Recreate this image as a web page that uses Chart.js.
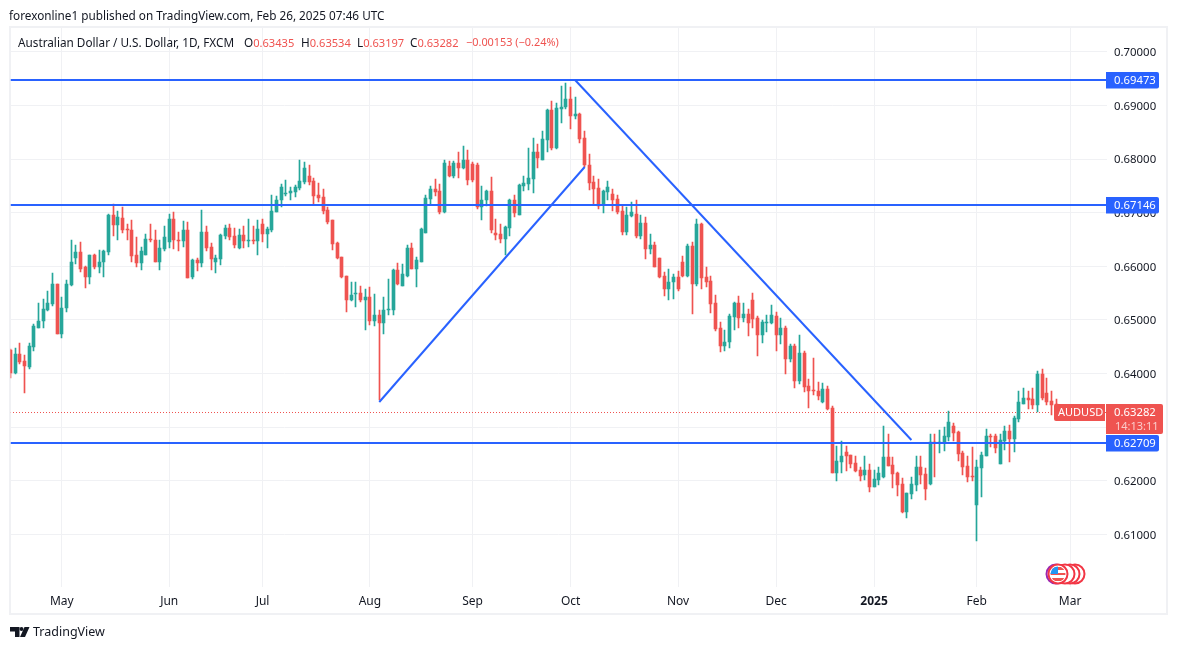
<!DOCTYPE html>
<html>
<head>
<meta charset="utf-8">
<title>AUDUSD</title>
<script src="https://cdn.jsdelivr.net/npm/chart.js@4"></script>
<style>
    html, body { margin: 0; padding: 0; background: #fff; }
    body { position: relative; width: 1177px; height: 650px; overflow: hidden; font-family: "Noto Sans", sans-serif; color: #131722; }
    #chart { position: absolute; left: 0; top: 0; }
    .txt { position: absolute; white-space: nowrap; font-size: 11.75px; line-height: 16px; }
    .red { color: #ef5350; font-size: 11.1px; }
</style>
</head>
<body>
<canvas id="chart" width="1177" height="650"></canvas>

<div class="txt" style="left:9px;top:7px;">forexonline1 published on TradingView.com, Feb 26, 2025 07:46 UTC</div>

<div class="txt" style="left:18px;top:34px;">Australian Dollar / U.S. Dollar, 1D, FXCM</div>
<div class="txt" style="left:244px;top:34px;">O<span class="red">0.63435</span></div>
<div class="txt" style="left:301px;top:34px;">H<span class="red">0.63534</span></div>
<div class="txt" style="left:357px;top:34px;">L<span class="red">0.63197</span></div>
<div class="txt" style="left:410px;top:34px;">C<span class="red">0.63282</span></div>
<div class="txt red" style="left:466px;top:34px;font-size:10.9px;">−0.00153 (−0.24%)</div>

<svg style="position:absolute;left:10px;top:626px;" width="20" height="12" viewBox="0 0 20 12">
    <path d="M0 1h9.5v10H5V5.5H0z M14.5 1L10 11h5l4.5-10z" fill="#131722"/>
    <circle cx="11.5" cy="3" r="2" fill="#131722"/>
</svg>
<div class="txt" style="left:33px;top:624px;font-size:12.5px;">TradingView</div>

<script>
// Daily candles, AUD/USD
const opens = [
    0.6444, 0.6401, 0.6436, 0.6423, 0.6412, 0.6449, 0.6486, 0.6498, 0.6518, 0.6529,
    0.6568, 0.6473, 0.6522, 0.6565, 0.6615, 0.6626, 0.6598, 0.6580, 0.6621, 0.6598,
    0.6608, 0.6626, 0.6695, 0.6678, 0.6691, 0.6669, 0.6667, 0.6621, 0.6606, 0.6622,
    0.6652, 0.6650, 0.6609, 0.6632, 0.6645, 0.6689, 0.6650, 0.6647, 0.6667, 0.6580,
    0.6611, 0.6606, 0.6665, 0.6637, 0.6609, 0.6613, 0.6656, 0.6671, 0.6656, 0.6634,
    0.6658, 0.6647, 0.6649, 0.6647, 0.6680, 0.6660, 0.6667, 0.6702, 0.6723, 0.6736,
    0.6736, 0.6739, 0.6747, 0.6758, 0.6769, 0.6760, 0.6734, 0.6730, 0.6706, 0.6687,
    0.6643, 0.6617, 0.6583, 0.6537, 0.6548, 0.6550, 0.6537, 0.6542, 0.6499, 0.6510,
    0.6494, 0.6518, 0.6518, 0.6594, 0.6564, 0.6583, 0.6635, 0.6596, 0.6609, 0.6663,
    0.6726, 0.6745, 0.6741, 0.6702, 0.6788, 0.6769, 0.6793, 0.6784, 0.6799, 0.6791,
    0.6790, 0.6710, 0.6723, 0.6741, 0.6663, 0.6661, 0.6652, 0.6672, 0.6723, 0.6696,
    0.6750, 0.6754, 0.6763, 0.6814, 0.6799, 0.6836, 0.6892, 0.6821, 0.6894, 0.6897,
    0.6912, 0.6881, 0.6884, 0.6840, 0.6789, 0.6758, 0.6747, 0.6715, 0.6739, 0.6735,
    0.6726, 0.6704, 0.6665, 0.6694, 0.6698, 0.6657, 0.6681, 0.6633, 0.6640, 0.6616,
    0.6583, 0.6558, 0.6570, 0.6581, 0.6609, 0.6583, 0.6638, 0.6567, 0.6679, 0.6580,
    0.6573, 0.6532, 0.6485, 0.6452, 0.6459, 0.6506, 0.6532, 0.6504, 0.6511, 0.6537,
    0.6504, 0.6472, 0.6494, 0.6494, 0.6508, 0.6472, 0.6485, 0.6427, 0.6452, 0.6386,
    0.6439, 0.6377, 0.6370, 0.6368, 0.6347, 0.6372, 0.6336, 0.6215, 0.6236, 0.6254,
    0.6249, 0.6234, 0.6221, 0.6211, 0.6221, 0.6189, 0.6202, 0.6208, 0.6245, 0.6229,
    0.6215, 0.6194, 0.6142, 0.6175, 0.6192, 0.6226, 0.6213, 0.6194, 0.6272, 0.6271,
    0.6271, 0.6282, 0.6302, 0.6291, 0.6252, 0.6228, 0.6209, 0.6155, 0.6224, 0.6246,
    0.6284, 0.6284, 0.6232, 0.6275, 0.6293, 0.6278, 0.6316, 0.6344, 0.6355, 0.6353,
    0.6342, 0.6400, 0.6364, 0.6349, 0.63435
];
const closes = [
    0.6401, 0.6436, 0.6421, 0.6414, 0.6451, 0.6488, 0.6499, 0.6520, 0.6531, 0.6568,
    0.6473, 0.6523, 0.6567, 0.6609, 0.6626, 0.6596, 0.6580, 0.6621, 0.6598, 0.6609,
    0.6628, 0.6695, 0.6678, 0.6693, 0.6667, 0.6667, 0.6619, 0.6606, 0.6628, 0.6652,
    0.6649, 0.6609, 0.6634, 0.6654, 0.6689, 0.6649, 0.6649, 0.6667, 0.6578, 0.6611,
    0.6606, 0.6665, 0.6635, 0.6613, 0.6615, 0.6658, 0.6671, 0.6654, 0.6639, 0.6658,
    0.6647, 0.6649, 0.6647, 0.6669, 0.6660, 0.6669, 0.6704, 0.6724, 0.6749, 0.6737,
    0.6741, 0.6749, 0.6760, 0.6784, 0.6758, 0.6732, 0.6728, 0.6704, 0.6683, 0.6641,
    0.6615, 0.6581, 0.6537, 0.6546, 0.6550, 0.6537, 0.6542, 0.6499, 0.6510, 0.6494,
    0.6518, 0.6520, 0.6594, 0.6568, 0.6585, 0.6635, 0.6596, 0.6611, 0.6669, 0.6728,
    0.6745, 0.6739, 0.6702, 0.6793, 0.6769, 0.6793, 0.6784, 0.6799, 0.6762, 0.6762,
    0.6710, 0.6724, 0.6741, 0.6667, 0.6659, 0.6652, 0.6674, 0.6723, 0.6700, 0.6752,
    0.6756, 0.6765, 0.6814, 0.6802, 0.6838, 0.6892, 0.6821, 0.6896, 0.6897, 0.6912,
    0.6881, 0.6884, 0.6838, 0.6789, 0.6756, 0.6745, 0.6713, 0.6741, 0.6748, 0.6724,
    0.6702, 0.6665, 0.6696, 0.6702, 0.6657, 0.6681, 0.6633, 0.6640, 0.6599, 0.6581,
    0.6558, 0.6571, 0.6581, 0.6557, 0.6583, 0.6638, 0.6568, 0.6679, 0.6578, 0.6571,
    0.6530, 0.6483, 0.6452, 0.6459, 0.6508, 0.6532, 0.6504, 0.6511, 0.6494, 0.6502,
    0.6472, 0.6496, 0.6496, 0.6509, 0.6472, 0.6485, 0.6427, 0.6452, 0.6386, 0.6439,
    0.6375, 0.6368, 0.6368, 0.6358, 0.6372, 0.6334, 0.6215, 0.6237, 0.6247, 0.6247,
    0.6232, 0.6219, 0.6209, 0.6221, 0.6189, 0.6204, 0.6215, 0.6245, 0.6228, 0.6213,
    0.6192, 0.6142, 0.6177, 0.6194, 0.6226, 0.6211, 0.6185, 0.6272, 0.6271, 0.6272,
    0.6284, 0.6310, 0.6289, 0.6250, 0.6226, 0.6207, 0.6207, 0.6226, 0.6248, 0.6284,
    0.6282, 0.6261, 0.6276, 0.6293, 0.6278, 0.6317, 0.6347, 0.6355, 0.6351, 0.6342,
    0.6400, 0.6355, 0.6347, 0.6342, 0.63282
];
const highs = [
    0.6445, 0.6447, 0.6458, 0.6434, 0.6457, 0.6492, 0.6531, 0.6540, 0.6555, 0.6587,
    0.6568, 0.6542, 0.6574, 0.6649, 0.6639, 0.6645, 0.6600, 0.6622, 0.6624, 0.6630,
    0.6630, 0.6697, 0.6716, 0.6703, 0.6710, 0.6680, 0.6686, 0.6654, 0.6637, 0.6661,
    0.6680, 0.6667, 0.6649, 0.6675, 0.6697, 0.6701, 0.6665, 0.6684, 0.6682, 0.6613,
    0.6615, 0.6706, 0.6676, 0.6643, 0.6621, 0.6660, 0.6678, 0.6680, 0.6671, 0.6669,
    0.6675, 0.6689, 0.6675, 0.6686, 0.6689, 0.6673, 0.6734, 0.6732, 0.6754, 0.6762,
    0.6749, 0.6752, 0.6799, 0.6795, 0.6789, 0.6765, 0.6756, 0.6745, 0.6710, 0.6687,
    0.6646, 0.6618, 0.6583, 0.6570, 0.6570, 0.6563, 0.6557, 0.6561, 0.6548, 0.6518,
    0.6542, 0.6576, 0.6596, 0.6607, 0.6605, 0.6639, 0.6644, 0.6617, 0.6672, 0.6734,
    0.6750, 0.6763, 0.6754, 0.6799, 0.6797, 0.6797, 0.6814, 0.6825, 0.6817, 0.6795,
    0.6793, 0.6750, 0.6743, 0.6767, 0.6689, 0.6680, 0.6676, 0.6726, 0.6734, 0.6754,
    0.6769, 0.6821, 0.6840, 0.6829, 0.6853, 0.6894, 0.6909, 0.6905, 0.6937, 0.6942,
    0.6935, 0.6916, 0.6886, 0.6853, 0.6810, 0.6769, 0.6763, 0.6743, 0.6760, 0.6745,
    0.6733, 0.6715, 0.6711, 0.6720, 0.6724, 0.6696, 0.6692, 0.6661, 0.6646, 0.6616,
    0.6590, 0.6596, 0.6586, 0.6592, 0.6620, 0.6642, 0.6646, 0.6688, 0.6681, 0.6599,
    0.6582, 0.6547, 0.6496, 0.6481, 0.6511, 0.6534, 0.6545, 0.6532, 0.6521, 0.6550,
    0.6508, 0.6500, 0.6509, 0.6528, 0.6515, 0.6504, 0.6489, 0.6455, 0.6455, 0.6472,
    0.6442, 0.6390, 0.6429, 0.6385, 0.6383, 0.6377, 0.6340, 0.6265, 0.6275, 0.6265,
    0.6249, 0.6247, 0.6226, 0.6247, 0.6232, 0.6221, 0.6226, 0.6303, 0.6288, 0.6244,
    0.6216, 0.6205, 0.6177, 0.6207, 0.6246, 0.6246, 0.6224, 0.6287, 0.6287, 0.6295,
    0.6301, 0.6331, 0.6308, 0.6293, 0.6256, 0.6246, 0.6263, 0.6239, 0.6254, 0.6297,
    0.6287, 0.6287, 0.6287, 0.6302, 0.6304, 0.6321, 0.6368, 0.6373, 0.6368, 0.6373,
    0.6405, 0.6409, 0.6392, 0.6368, 0.63534
];
const lows = [
    0.6391, 0.6399, 0.6417, 0.6363, 0.6408, 0.6442, 0.6485, 0.6486, 0.6516, 0.6527,
    0.6473, 0.6466, 0.6514, 0.6563, 0.6604, 0.6589, 0.6559, 0.6567, 0.6596, 0.6587,
    0.6580, 0.6621, 0.6656, 0.6650, 0.6663, 0.6649, 0.6609, 0.6598, 0.6593, 0.6622,
    0.6645, 0.6609, 0.6593, 0.6628, 0.6634, 0.6632, 0.6628, 0.6637, 0.6578, 0.6576,
    0.6591, 0.6598, 0.6628, 0.6593, 0.6587, 0.6602, 0.6652, 0.6649, 0.6634, 0.6632,
    0.6635, 0.6637, 0.6641, 0.6621, 0.6645, 0.6635, 0.6664, 0.6702, 0.6710, 0.6732,
    0.6724, 0.6730, 0.6743, 0.6754, 0.6752, 0.6715, 0.6721, 0.6698, 0.6680, 0.6631,
    0.6613, 0.6579, 0.6514, 0.6535, 0.6525, 0.6533, 0.6481, 0.6490, 0.6488, 0.6351,
    0.6473, 0.6510, 0.6509, 0.6566, 0.6564, 0.6581, 0.6596, 0.6561, 0.6609, 0.6663,
    0.6715, 0.6732, 0.6698, 0.6700, 0.6767, 0.6765, 0.6765, 0.6782, 0.6752, 0.6758,
    0.6708, 0.6687, 0.6713, 0.6663, 0.6650, 0.6643, 0.6622, 0.6657, 0.6693, 0.6696,
    0.6741, 0.6743, 0.6737, 0.6784, 0.6799, 0.6814, 0.6817, 0.6819, 0.6868, 0.6894,
    0.6856, 0.6875, 0.6830, 0.6786, 0.6743, 0.6715, 0.6707, 0.6700, 0.6724, 0.6704,
    0.6698, 0.6659, 0.6659, 0.6692, 0.6653, 0.6652, 0.6614, 0.6624, 0.6599, 0.6579,
    0.6545, 0.6538, 0.6540, 0.6555, 0.6581, 0.6581, 0.6512, 0.6563, 0.6558, 0.6562,
    0.6513, 0.6480, 0.6440, 0.6442, 0.6448, 0.6481, 0.6485, 0.6496, 0.6470, 0.6485,
    0.6433, 0.6457, 0.6478, 0.6493, 0.6442, 0.6455, 0.6399, 0.6422, 0.6373, 0.6381,
    0.6366, 0.6336, 0.6360, 0.6351, 0.6345, 0.6332, 0.6215, 0.6200, 0.6215, 0.6219,
    0.6224, 0.6217, 0.6200, 0.6202, 0.6180, 0.6189, 0.6193, 0.6206, 0.6228, 0.6187,
    0.6172, 0.6140, 0.6131, 0.6166, 0.6181, 0.6194, 0.6164, 0.6192, 0.6207, 0.6252,
    0.6256, 0.6275, 0.6275, 0.6237, 0.6211, 0.6198, 0.6200, 0.6088, 0.6170, 0.6246,
    0.6263, 0.6252, 0.6232, 0.6258, 0.6235, 0.6254, 0.6310, 0.6344, 0.6334, 0.6334,
    0.6329, 0.6351, 0.6342, 0.6323, 0.63197
];

// Axis ticks: bar number where each month starts
const monthLabels = ['May', 'Jun', 'Jul', 'Aug', 'Sep', 'Oct', 'Nov', 'Dec', '2025', 'Feb', 'Mar'];
const monthBars = [11, 34, 54, 77, 99, 120, 143, 164, 185, 207, 227];
const priceTicks = [0.61, 0.62, 0.63, 0.64, 0.65, 0.66, 0.67, 0.68, 0.69, 0.70];

// Drawn lines
const supportLevels = [0.69473, 0.67146, 0.62709];
const risingLineBars = [79, 123];
const risingLinePrices = [0.6347, 0.67854];
const fallingLineBars = [121, 193];
const fallingLinePrices = [0.69473, 0.62761];
const lastPrice = 0.63282;

const GREEN = '#26a69a';
const RED = '#ef5350';
const BLUE = '#2962ff';
const GRID = '#f0f1f4';
const TEXT = '#131722';
const FONT = '"Noto Sans", sans-serif';
const X_MAX = 234.9;

const candleColor = (i) => closes[i] >= opens[i] ? GREEN : RED;
const lineData = (bars, prices) => bars.map((bar, i) => ({ x: bar, y: prices[i] }));

const lineDataset = (data, extra) => Object.assign({
    type: 'line',
    data: data,
    borderColor: BLUE,
    borderWidth: 2,
    pointRadius: 0,
    order: 1
}, extra);

// Price tags, frame and the small flag badge sit on top of the library's axes
const overlayPlugin = {
    id: 'overlay',
    beforeDraw(chart) {
        const ctx = chart.ctx;
        ctx.save();
        ctx.strokeStyle = GRID;
        ctx.lineWidth = 2;
        ctx.strokeRect(10, 27, 1157, 587);
        ctx.restore();
    },
    // candles and flat lines land on whole pixels so they stay crisp
    beforeDatasetDraw(chart, args) {
        const meta = args.meta;
        if (meta.type === 'bar') {
            meta.data.forEach((bar) => {
                bar.x = Math.floor(bar.x) + 0.5;
                bar.y = Math.round(bar.y);
                bar.base = Math.round(bar.base);
                if (bar.y === bar.base) {
                    bar.base = bar.y + 1;
                }
            });
        } else if (meta.data[0].y === meta.data[1].y) {
            const thin = meta.dataset.options.borderWidth === 1;
            meta.data.forEach((point) => {
                point.y = thin ? Math.floor(point.y) + 0.5 : Math.round(point.y);
            });
        }
    },
    afterDraw(chart) {
        const ctx = chart.ctx;
        const yScale = chart.scales.y;
        ctx.save();
        ctx.textBaseline = 'middle';

        // flag badge
        [1075, 1070, 1065].forEach((cx) => {
            ctx.beginPath();
            ctx.arc(cx, 574, 9.5, 0, Math.PI * 2);
            ctx.fillStyle = '#fff';
            ctx.fill();
            ctx.strokeStyle = '#f23645';
            ctx.lineWidth = 2;
            ctx.stroke();
        });
        ctx.beginPath();
        ctx.arc(1056, 574, 9.5, 0, Math.PI * 2);
        ctx.strokeStyle = '#9c27b0';
        ctx.stroke();
        ctx.beginPath();
        ctx.arc(1058, 574, 9.5, 0, Math.PI * 2);
        ctx.fillStyle = '#fff';
        ctx.fill();
        ctx.strokeStyle = '#f23645';
        ctx.stroke();
        ctx.save();
        ctx.beginPath();
        ctx.arc(1058, 574, 7.5, 0, Math.PI * 2);
        ctx.clip();
        ctx.fillStyle = '#ef5350';
        ctx.fillRect(1050, 567, 17, 3);
        ctx.fillRect(1050, 573, 17, 2);
        ctx.fillRect(1050, 578, 17, 3);
        ctx.fillStyle = '#2196f3';
        ctx.fillRect(1050, 566, 8, 8);
        ctx.restore();

        // blue level tags
        ctx.font = '11.3px ' + FONT;
        ctx.textAlign = 'left';
        supportLevels.forEach((level) => {
            const y = Math.round(yScale.getPixelForValue(level));
            ctx.fillStyle = BLUE;
            ctx.beginPath();
            ctx.roundRect(1106, y - 8, 53, 16.5, [0, 2, 2, 0]);
            ctx.fill();
            ctx.fillStyle = '#fff';
            ctx.fillText(level.toFixed(5), 1114, y + 1);
        });

        // symbol and last price tags
        const lastY = Math.round(yScale.getPixelForValue(lastPrice));
        ctx.fillStyle = RED;
        ctx.beginPath();
        ctx.roundRect(1054, lastY - 8, 51, 17, [2, 0, 0, 2]);
        ctx.fill();
        ctx.beginPath();
        ctx.roundRect(1106, lastY - 8, 57, 30, [0, 2, 2, 0]);
        ctx.fill();
        ctx.fillStyle = '#fff';
        ctx.fillText(lastPrice.toFixed(5), 1114, lastY + 1);
        ctx.font = '11px ' + FONT;
        ctx.fillText('AUDUSD', 1058, lastY + 1);
        ctx.fillStyle = 'rgba(255,255,255,0.7)';
        ctx.fillText('14:13:11', 1115, lastY + 15);
        ctx.restore();
    }
};

new Chart(document.getElementById('chart').getContext('2d'), {
    type: 'bar',
    data: {
        datasets: [
            lineDataset(lineData(risingLineBars, risingLinePrices)),
            lineDataset(lineData(fallingLineBars, fallingLinePrices)),
            ...supportLevels.map((level) => lineDataset(lineData([0, X_MAX], [level, level]))),
            // candle bodies
            {
                data: opens.map((open, i) => ({ x: i, y: [open, closes[i]] })),
                backgroundColor: opens.map((_, i) => candleColor(i)),
                barThickness: 3,
                grouped: false,
                order: 2
            },
            // candle wicks
            {
                data: lows.map((low, i) => ({ x: i, y: [low, highs[i]] })),
                backgroundColor: lows.map((_, i) => candleColor(i)),
                barThickness: 1,
                grouped: false,
                order: 3
            },
            lineDataset(lineData([0, X_MAX], [lastPrice, lastPrice]), {
                borderColor: RED,
                borderWidth: 1,
                borderDash: [1, 2],
                borderDashOffset: 0.5,
                order: 4
            })
        ]
    },
    plugins: [overlayPlugin],
    options: {
        responsive: false,
        animation: false,
        devicePixelRatio: 1,
        events: [],
        layout: { padding: { left: 10.5, top: 27, right: 10, bottom: 36 } },
        plugins: { legend: { display: false }, tooltip: { enabled: false } },
        scales: {
            x: {
                type: 'linear',
                offset: false,
                min: 0,
                max: X_MAX,
                border: { display: false },
                grid: { color: GRID, offset: false, drawTicks: false },
                afterBuildTicks: (scale) => { scale.ticks = monthBars.map((bar) => ({ value: bar })); },
                afterFit: (scale) => { scale.height = 27; },
                ticks: {
                    autoSkip: false,
                    maxRotation: 0,
                    padding: 7,
                    color: TEXT,
                    font: (ctx) => ({
                        family: FONT,
                        size: 12,
                        weight: ctx.tick && ctx.tick.label === '2025' ? 'bold' : 'normal'
                    }),
                    callback: (value) => monthLabels[monthBars.indexOf(value)]
                }
            },
            y: {
                position: 'right',
                min: 0.60019,
                max: 0.70466,
                border: { display: false },
                grid: { color: GRID, drawTicks: false },
                afterBuildTicks: (scale) => { scale.ticks = priceTicks.map((price) => ({ value: price })); },
                afterFit: (scale) => { scale.width = 60; },
                ticks: {
                    padding: 7,
                    labelOffset: 1,
                    color: TEXT,
                    font: { family: FONT, size: 11.4 },
                    callback: (value) => value.toFixed(5)
                }
            }
        }
    }
});
</script>
</body>
</html>
